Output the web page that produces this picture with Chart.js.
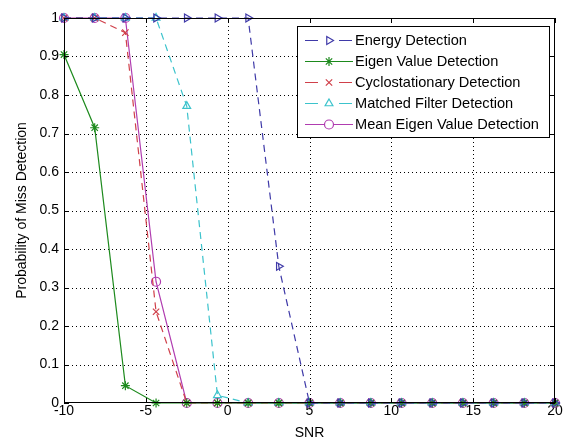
<!DOCTYPE html>
<html>
<head>
<meta charset="utf-8">
<script src="https://cdn.jsdelivr.net/npm/chart.js@4/dist/chart.umd.min.js"></script>
<style>
  html, body { margin: 0; padding: 0; background: #fff; }
  #wrap { width: 563px; height: 442px; }
</style>
</head>
<body>
<div id="wrap"><canvas id="chart" width="563" height="442"></canvas></div>
<script>
// Daten
const snr = [-10, -8.125, -6.25, -4.375, -2.5, -0.625, 1.25, 3.125, 5, 6.875, 8.75, 10.625, 12.5, 14.375, 16.25, 18.125, 20];
const energyDet = [1, 1, 1, 1, 1, 1, 1, 0.355, 0, 0, 0, 0, 0, 0, 0, 0, 0];
const eigenDet = [0.905, 0.715, 0.045, 0, 0, 0, 0, 0, 0, 0, 0, 0, 0, 0, 0, 0, 0];
const cycloDet = [1, 1, 0.962, 0.237, 0, 0, 0, 0, 0, 0, 0, 0, 0, 0, 0, 0, 0];
const matchedDet = [1, 1, 1, 1, 0.771, 0.02, 0, 0, 0, 0, 0, 0, 0, 0, 0, 0, 0];
const meanEigenDet = [1, 1, 1, 0.315, 0, 0, 0, 0, 0, 0, 0, 0, 0, 0, 0, 0, 0];
const xTicks = [-10, -5, 0, 5, 10, 15, 20];
const yTicks = [0, 0.1, 0.2, 0.3, 0.4, 0.5, 0.6, 0.7, 0.8, 0.9, 1];

const FONT = "'Liberation Sans', Arial, Helvetica, sans-serif";
const toPoints = (vals) => vals.map((v, i) => ({ x: snr[i], y: v }));

const mkSet = (label, vals, color, dash, style, rot) => ({
    label: label,
    data: toPoints(vals),
    borderColor: color,
    backgroundColor: color,
    borderWidth: 1.2,
    borderDash: dash,
    pointStyle: style,
    pointRotation: rot || 0,
    pointRadius: 4.5,
    pointBorderWidth: 1.2,
    pointBorderColor: color,
    pointBackgroundColor: 'rgba(0,0,0,0)',
    tension: 0,
    clip: false
});

const datasets = [
    mkSet('Energy Detection', energyDet, '#3f3aa8', [7, 5], 'triangle', 90),
    mkSet('Eigen Value Detection', eigenDet, '#1d8a1d', [], 'star'),
    mkSet('Cyclostationary Detection', cycloDet, '#d0404a', [7, 5], 'crossRot'),
    mkSet('Matched Filter Detection', matchedDet, '#3cc3cc', [7, 5], 'triangle'),
    mkSet('Mean Eigen Value Detection', meanEigenDet, '#b03cb0', [], 'circle')
];

// gepunktetes Gitter
const gridPlugin = {
    id: 'dotGrid',
    beforeDatasetsDraw(chart) {
        const { ctx, chartArea: a, scales } = chart;
        ctx.save();
        ctx.strokeStyle = '#000';
        ctx.lineWidth = 1;
        ctx.setLineDash([1, 3]);
        ctx.beginPath();
        xTicks.slice(1, -1).forEach(t => {
            const px = Math.round(scales.x.getPixelForValue(t)) + 0.5;
            ctx.moveTo(px, a.top); ctx.lineTo(px, a.bottom);
        });
        yTicks.slice(1, -1).forEach(t => {
            const py = Math.round(scales.y.getPixelForValue(t)) + 0.5;
            ctx.moveTo(a.left, py); ctx.lineTo(a.right, py);
        });
        ctx.stroke();
        ctx.restore();
    }
};

// Rahmen mit Ticks nach innen (wie MATLAB)
const framePlugin = {
    id: 'frame',
    afterDatasetsDraw(chart) {
        const { ctx, chartArea: a, scales } = chart;
        ctx.save();
        ctx.strokeStyle = '#000';
        ctx.lineWidth = 1;
        ctx.setLineDash([]);
        ctx.strokeRect(a.left + 0.5, a.top + 0.5, a.right - a.left - 1, a.bottom - a.top - 1);
        ctx.beginPath();
        xTicks.forEach(t => {
            const px = Math.round(scales.x.getPixelForValue(t)) + 0.5;
            ctx.moveTo(px, a.bottom); ctx.lineTo(px, a.bottom - 5);
            ctx.moveTo(px, a.top); ctx.lineTo(px, a.top + 5);
        });
        yTicks.forEach(t => {
            const py = Math.round(scales.y.getPixelForValue(t)) + 0.5;
            ctx.moveTo(a.left, py); ctx.lineTo(a.left + 5, py);
            ctx.moveTo(a.right, py); ctx.lineTo(a.right - 5, py);
        });
        ctx.stroke();
        ctx.restore();
    }
};

// Legende innerhalb der Achsen, oben rechts
const legendPlugin = {
    id: 'innerLegend',
    afterDraw(chart) {
        const { ctx, chartArea: a } = chart;
        const rowH = 21;
        ctx.save();
        ctx.font = '14.6px ' + FONT;
        let maxW = 0;
        chart.data.datasets.forEach(d => { maxW = Math.max(maxW, ctx.measureText(d.label).width); });
        const boxW = Math.round(58 + maxW + 10);
        const boxH = rowH * chart.data.datasets.length + 6;
        const bx = a.right - 6 - boxW;
        const by = a.top + 8;
        ctx.fillStyle = '#fff';
        ctx.fillRect(bx, by, boxW, boxH);
        ctx.strokeStyle = '#000';
        ctx.lineWidth = 1;
        ctx.strokeRect(bx + 0.5, by + 0.5, boxW, boxH);
        chart.data.datasets.forEach((d, i) => {
            const cy = by + 14 + i * rowH;
            ctx.strokeStyle = d.borderColor;
            ctx.lineWidth = d.borderWidth;
            ctx.setLineDash(d.borderDash.length ? [13, 21] : []);
            ctx.beginPath();
            ctx.moveTo(bx + 8, cy + 0.5);
            ctx.lineTo(bx + 56, cy + 0.5);
            ctx.stroke();
            ctx.setLineDash([]);
            if (Chart.helpers && Chart.helpers.drawPoint) {
                ctx.fillStyle = '#fff';
                ctx.strokeStyle = d.pointBorderColor;
                ctx.lineWidth = d.pointBorderWidth;
                Chart.helpers.drawPoint(ctx, {
                    pointStyle: d.pointStyle,
                    rotation: d.pointRotation,
                    radius: d.pointRadius,
                    borderWidth: d.pointBorderWidth
                }, bx + 32, cy + 0.5);
            }
            ctx.fillStyle = '#000';
            ctx.textBaseline = 'middle';
            ctx.textAlign = 'left';
            ctx.fillText(d.label, bx + 58, cy + 1);
        });
        ctx.restore();
    }
};

const chart = new Chart(document.getElementById('chart').getContext('2d'), {
    type: 'line',
    data: { datasets: datasets },
    options: {
        responsive: false,
        animation: false,
        layout: { padding: { top: 18, right: 8, left: 0, bottom: 0 } },
        plugins: {
            legend: { display: false },
            tooltip: { enabled: false }
        },
        scales: {
            x: {
                type: 'linear',
                min: -10,
                max: 20,
                border: { display: false },
                grid: { display: false, drawTicks: false },
                afterBuildTicks: (s) => { s.ticks = xTicks.map(v => ({ value: v })); },
                afterFit: (s) => { s.height = 39; },
                ticks: {
                    padding: 0,
                    color: '#000',
                    font: { family: FONT, size: 14 },
                    maxRotation: 0,
                    callback: (v) => String(v)
                },
                title: {
                    display: true,
                    text: 'SNR',
                    color: '#000',
                    font: { family: FONT, size: 14 },
                    padding: { top: 0, bottom: 0 }
                }
            },
            y: {
                min: 0,
                max: 1,
                border: { display: false },
                grid: { display: false, drawTicks: false },
                afterBuildTicks: (s) => { s.ticks = yTicks.map(v => ({ value: v })); },
                afterFit: (s) => { s.width = 64; },
                ticks: {
                    padding: 5,
                    color: '#000',
                    font: { family: FONT, size: 14 },
                    callback: (v) => String(Math.round(v * 10) / 10)
                },
                title: {
                    display: true,
                    text: 'Probability of Miss Detection',
                    color: '#000',
                    font: { family: FONT, size: 14 },
                    padding: { top: 14, bottom: 0 }
                }
            }
        }
    },
    plugins: [gridPlugin, framePlugin, legendPlugin]
});
</script>
</body>
</html>
